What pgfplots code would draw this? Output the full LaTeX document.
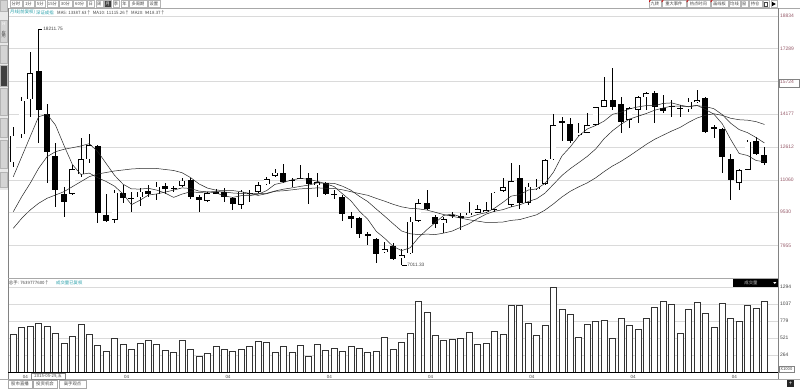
\documentclass[border=0pt]{standalone}
\usepackage{fontspec}
\setmainfont{Liberation Sans}
\newfontfamily\cjk{Noto Sans CJK SC}
\usepackage{pgfplots}
\usepackage{pgfplotstable}
\pgfplotsset{compat=1.18}
\definecolor{gridc}{RGB}{218,218,218}
\definecolor{framec}{RGB}{130,130,130}
\definecolor{lblc}{RGB}{150,90,105}
\definecolor{tealc}{RGB}{40,160,170}
\definecolor{sidebg}{RGB}{232,232,232}
\definecolor{btnc}{RGB}{212,212,212}
\definecolor{txtc}{RGB}{70,70,70}
\newcommand\fs[1]{\fontsize{#1}{#1}\selectfont}

\pgfplotstableread{
i O H L C V m5 m10 m20
0 11894 13554 11685 13155 586 11210 9550 8762
1 13222 15006 13046 14816 686 12159 10262 9237
2 14882 17140 14057 16116 707 13108 10897 9631
3 16239 18212 12795 14375 753 14057 11609 9948
4 14185 14659 10897 12396 707 14171 12159 10186
5 12192 12795 9787 10579 601 13658 12396 10342
6 10390 10736 9284 10024 450 12700 12510 10499
7 10390 11765 10342 11561 556 11789 12586 10736
8 11324 13032 11210 12036 727 11320 12667 10973
9 12036 13236 11874 12714 586 11381 12776 11210
10 12667 12714 9028 9474 419 11163 12406 11338
11 9393 10390 9076 9123 318 10983 11837 11410
12 9156 10579 9028 10451 525 10760 11272 11481
13 10451 10817 9948 10186 434 10390 10855 11528
14 10210 10499 9550 10186 359 9882 10632 11576
15 10233 10660 9820 10499 450 10091 10622 11599
16 10532 10817 10262 10375 495 10338 10660 11609
17 10375 10973 10105 10736 434 10394 10575 11599
18 10783 10926 10375 10613 343 10480 10432 11552
19 10651 10769 10499 10660 308 10575 10228 11505
20 10769 11134 10708 11021 495 10679 10385 11398
21 11054 11134 10138 10233 359 10651 10494 11169
22 10233 10342 9550 10105 252 10527 10461 10868
23 10072 10499 10024 10423 298 10489 10485 10671
24 10451 10613 10390 10460 404 10447 10508 10573
25 10499 10660 10024 10262 348 10295 10485 10557
26 10186 10262 9631 9901 318 10228 10437 10551
27 9868 10579 9664 10499 359 10309 10413 10498
28 10413 10579 10024 10423 404 10309 10394 10417
29 10499 10973 10423 10817 480 10380 10409 10322
30 10850 11210 10817 11087 460 10546 10418 10403
31 11258 11561 11210 11400 313 10845 10532 10517
32 11372 11813 10935 10959 404 10935 10617 10542
33 11030 11134 10736 11040 313 11059 10679 10585
34 11101 11765 11078 11163 419 11130 10750 10634
35 11134 11372 9915 10864 252 11087 10812 10652
36 10817 11372 10262 10945 434 10992 10916 10680
37 10897 10973 10342 10375 343 10878 10902 10662
38 10390 10579 10138 10366 374 10745 10897 10650
39 10262 10342 9123 9441 318 10399 10760 10589
40 9360 9550 8762 9204 404 10067 10570 10498
41 9237 9313 8288 8492 374 9578 10281 10411
42 8459 8601 7970 8445 313 9189 10029 10328
43 8241 8288 7102 7529 328 8620 9678 10183
44 7652 8127 7576 7766 540 8288 9337 10049
45 7923 8051 7259 7292 359 7904 8981 9901
46 7339 7766 7011 7496 460 7705 8634 9780
47 7576 9284 7543 9076 601 7833 8506 9709
48 9123 10138 9076 9948 1086 8317 8464 9685
49 9977 10579 9631 9678 909 8696 8487 9628
50 9284 9393 8762 8966 566 9033 8464 9522
51 9000 9313 8554 9204 495 9374 8535 9412
52 9393 9550 9237 9384 505 9436 8630 9334
53 9322 9474 8682 9299 525 9313 8810 9248
54 9393 10024 9370 9502 611 9275 8981 9165
55 9502 9868 9474 9664 424 9417 9218 9104
56 9550 10024 9502 9631 450 9503 9431 9039
57 9631 10499 9550 10451 631 9711 9569 9043
58 10532 11134 10499 10708 586 9991 9645 9059
59 9868 11874 9787 11006 1025 10290 9778 9138
60 11134 11765 9664 9977 1025 10356 9877 9176
61 9977 10897 9868 10736 753 10575 10029 9289
62 10627 11087 10579 10736 571 10632 10162 9403
63 10864 12036 10817 12003 722 10893 10432 9627
64 12036 14171 12003 13663 1293 11424 10850 9921
65 13820 14057 12918 13810 965 12192 11267 10248
66 13710 13981 12795 12918 879 12629 11595 10519
67 13189 13744 13141 13298 535 13141 11879 10730
68 13298 14218 13269 13663 737 13473 12173 10916
69 13663 14531 13616 14503 778 13639 12524 11157
70 14531 15954 14517 14849 798 13848 13013 11451
71 14849 16353 14375 14531 525 14171 13393 11718
72 14659 14977 13269 13791 828 14266 13696 11938
73 13900 14531 13506 14455 722 14427 13943 12195
74 14375 15039 13744 14977 662 14522 14076 12469
75 14977 15243 14375 15167 828 14583 14209 12744
76 15195 15276 13744 14503 990 14579 14365 12987
77 14455 15086 14218 14341 1076 14688 14470 13182
78 14564 14849 14057 14555 1040 14711 14560 13375
79 14455 14612 14057 14446 601 14607 14555 13547
80 14408 14930 14294 14768 965 14526 14545 13786
81 14768 15323 14692 14849 1071 14598 14579 13992
82 14930 14977 13298 13345 904 14398 14536 14122
83 13582 13663 13032 13473 686 14180 14436 14196
84 13473 13535 11372 12159 1056 13720 14156 14120
85 12036 12287 10105 11054 828 12975 13744 13982
86 10926 11561 10579 11528 783 12311 13445 13913
87 11528 12951 11528 12871 1015 12216 13298 13891
88 12904 13108 12240 12287 980 11979 13070 13822
89 12240 12634 11765 11846 1086 11917 12809 13690
}\candles

\newcommand\tbtn[4][white]{%
  \draw[framec!60, line width=0.4bp, fill=#1] (#2,380.4) rectangle (#3,387.6);}
\newcommand\tlbl[4][txtc]{\node[font=\cjk\fs{4.3}, text=#1, inner sep=0pt] at ({(#2+#3)/2},383.8) {#4};}

\begin{document}
\begin{tikzpicture}[x=1bp,y=1bp]
\useasboundingbox (0,0) rectangle (800,388);
\fill[white] (0,0) rectangle (800,388);

% ---------- main price panel ----------
\begin{axis}[
  name=main,
  at={(8.3bp,379bp)}, anchor=north west,
  width=770bp, height=263bp, scale only axis,
  xmin=-0.592, xmax=90.64, ymin=6689, ymax=19166,
  axis line style={draw=none},
  xtick=\empty,
  ytick={7955,9530,11060,12612,14177,15724,17289,18834},
  yticklabels={7955,9530,11060,12612,14177,15724,17289,18834},
  yticklabel pos=right,
  yticklabel style={font=\fs{5}, text=lblc, anchor=west, inner sep=1.6bp},
  major tick length=0pt, tick style={draw=none},
  ymajorgrids, grid style={gridc, line width=0.6bp},
]
% wicks
\addplot[draw=none, mark=none, forget plot,
  error bars/.cd, y dir=both, y explicit, error mark=none,
  error bar style={draw=black, line width=0.6bp, line cap=butt}]
  table[x=i, y expr={(\thisrow{H}+\thisrow{L})/2}, y error expr={(\thisrow{H}-\thisrow{L})/2}] {\candles};
% bodies (outline / black)
\addplot[draw=none, mark=none, forget plot,
  error bars/.cd, y dir=both, y explicit, error mark=none,
  error bar style={draw=black, line width=6bp, line cap=butt}]
  table[x=i, y expr={(\thisrow{O}+\thisrow{C})/2}, y error expr={max(abs(\thisrow{C}-\thisrow{O})/2,22)}] {\candles};
% hollow interiors of rising candles (falling ones are moved out of view)
\addplot[draw=none, mark=none, forget plot,
  error bars/.cd, y dir=both, y explicit, error mark=none,
  error bar style={draw=white, line width=4.6bp, line cap=butt}]
  table[x=i, y expr={ifthenelse(\thisrow{C}>\thisrow{O}+70,(\thisrow{O}+\thisrow{C})/2,1000)}, y error expr={ifthenelse(\thisrow{C}>\thisrow{O}+70,(\thisrow{C}-\thisrow{O})/2-33,10)}] {\candles};
% moving averages
\addplot[black!85, line width=0.5bp, mark=none] table[x=i, y=m5] {\candles};
\addplot[black!85, line width=0.5bp, mark=none] table[x=i, y=m10] {\candles};
\addplot[black!85, line width=0.5bp, mark=none] table[x=i, y=m20] {\candles};
% high / low annotations
\draw[black, line width=0.5bp] (axis cs:3,18212) -- ++(3.8bp,0bp) node[right, inner sep=0.6bp, font=\fs{4.8}, text=txtc] {18211.75};
\draw[black, line width=0.5bp] (axis cs:46,7011) -- ++(5bp,0bp) node[right, inner sep=0.6bp, font=\fs{4.8}, text=txtc] {7011.33};
\end{axis}

% ---------- volume panel ----------
\begin{axis}[
  name=vol,
  at={(8.3bp,110bp)}, anchor=north west,
  width=770bp, height=94.5bp, scale only axis,
  xmin=-0.592, xmax=90.64, ymin=0, ymax=1432,
  axis line style={draw=none},
  xtick={1,13,25,37,49,61,73,85},
  xticklabels={04,04,04,04,04,04,04,04},
  xticklabel style={anchor=north west, font=\fs{4.5}, text=txtc, inner sep=0pt, yshift=-2.2bp, xshift=1bp},
  ytick={264,521,779,1037,1294},
  yticklabels={264,521,779,1037,1294},
  yticklabel pos=right,
  yticklabel style={font=\fs{5}, text=txtc, anchor=west, inner sep=1.6bp},
  major tick length=0pt, tick style={draw=none},
  ymajorgrids, grid style={gridc, line width=0.6bp},
]
\addplot[ybar, bar width=6bp, bar shift=0pt, fill=white, draw=black!80, line width=0.6bp] table[x=i, y=V] {\candles};
\end{axis}

% ---------- frame lines ----------
\draw[framec!70, line width=0.5bp] (8,379.6) -- (800,379.6);
\draw[framec, line width=0.5bp] (8.3,379.6) -- (8.3,8.5);
\draw[framec, line width=0.6bp] (778.3,379.6) -- (778.3,8.5);
\draw[framec!70, line width=0.5bp] (8.3,110) -- (778.3,110);
\draw[black, line width=0.7bp] (8.3,15.5) -- (778.3,15.5);
\draw[framec!70, line width=0.5bp] (0,8.5) -- (800,8.5);

% ---------- top toolbar ----------
\tbtn{10}{21.7}{}\tlbl{10}{21.7}{分时}
\tbtn{22.7}{34}{}\tlbl{22.7}{34}{1分}
\tbtn{35}{45.5}{}\tlbl{35}{45.5}{5分}
\tbtn{46.7}{58.3}{}\tlbl{46.7}{58.3}{15分}
\tbtn{59.3}{71.7}{}\tlbl{59.3}{71.7}{30分}
\tbtn{73.3}{86}{}\tlbl{73.3}{86}{60分}
\tbtn{87.3}{94.3}{}\tlbl{87.3}{94.3}{日}
\tbtn{95.7}{102.7}{}\tlbl{95.7}{102.7}{周}
\tbtn[black!75]{104.3}{111}{}\tlbl[white]{104.3}{111}{月}
\tbtn{112.7}{119.3}{}\tlbl{112.7}{119.3}{季}
\tbtn{120.7}{128.3}{}\tlbl{120.7}{128.3}{年}
\tbtn{129.3}{146.7}{}\tlbl{129.3}{146.7}{多周期}
\tbtn{147.7}{160}{}\tlbl{147.7}{160}{设置}

\tbtn{649}{660.7}{}\tlbl{649}{660.7}{九转}
\tbtn{661.7}{686}{}\tlbl{661.7}{686}{重大事件}
\tbtn{686.7}{710}{}\tlbl{686.7}{710}{热点时间}
\tbtn{710.7}{728.3}{}\tlbl{710.7}{728.3}{画线板}
\tbtn{729}{740}{}\tlbl{729}{740}{均线}
\tbtn{740.7}{747.7}{}\tlbl{740.7}{747.7}{窗}
\tbtn{748.7}{761.7}{}\tlbl{748.7}{761.7}{持仓}
\tbtn{763}{769}{}
\draw[txtc, line width=0.4bp] (764.4,382) rectangle (767.6,385.8);
\tbtn{770.7}{776.7}{}
\fill[black] (772,381.8) -- (772,386.2) -- (775.8,384) -- cycle;
\foreach \xa in {649,661.7,686.7,710.7}{\fill[red!80!black] (\xa,387.6) -- (\xa+2,387.6) -- (\xa,385.6) -- cycle;}

% ---------- left sidebar ----------
\fill[sidebg] (0,198) rectangle (7.6,388);
\newcommand\sbtn[4][btnc]{\draw[framec!60, line width=0.4bp, fill=#1] (0.4,#2) rectangle (7.2,#3);}
\sbtn{377}{387.6}\node[font=\cjk\fs{4.2}, text=txtc, align=center, inner sep=0pt] at (3.8,382.3) {首\\[-0.6bp]页};
\sbtn{346}{368}
\fill[black!75] (1.2,361) rectangle (6.4,367);
\node[font=\fs{4}, text=white, inner sep=0pt] at (3.8,364) {H};
\node[font=\cjk\fs{4.2}, text=txtc, align=center, inner sep=0pt] at (3.8,353.5) {应\\[-0.6bp]用};
\sbtn{325}{343}\node[font=\cjk\fs{4.2}, text=txtc, align=center, inner sep=0pt] at (3.8,334) {分\\[-0.6bp]时\\[-0.6bp]图};
\sbtn[black!75]{302}{323}\node[font=\cjk\fs{4.2}, text=white, align=center, inner sep=0pt] at (3.8,312.5) {K\\[-0.6bp]线\\[-0.6bp]图};
\sbtn{273}{300}\node[font=\cjk\fs{4.2}, text=txtc, align=center, inner sep=0pt] at (3.8,286.5) {大\\[-0.6bp]盘\\[-0.6bp]资\\[-0.6bp]料};
\sbtn{251}{270}\node[font=\cjk\fs{4.2}, text=txtc, align=center, inner sep=0pt] at (3.8,260.5) {自\\[-0.6bp]选\\[-0.6bp]股};
\sbtn{220}{248}\node[font=\cjk\fs{4.2}, text=txtc, align=center, inner sep=0pt] at (3.8,234) {综\\[-0.6bp]合\\[-0.6bp]排\\[-0.6bp]名};
\sbtn{201}{216}\node[font=\cjk\fs{4.2}, text=txtc, align=center, inner sep=0pt] at (3.8,208.5) {更\\[-0.6bp]多};

% ---------- header texts ----------
\node[anchor=west, font=\cjk\fs{4.4}, text=tealc, inner sep=0pt] at (10,375.5) {月线(前复权)};
\node[anchor=west, font=\cjk\fs{4.4}, text=tealc, inner sep=0pt] at (36,375.5) {深证成指};
\node[anchor=west, font=\cjk\fs{4.4}, text=txtc, inner sep=0pt] at (57,375.5) {MA5: 13387.63↑};
\node[anchor=west, font=\cjk\fs{4.4}, text=txtc, inner sep=0pt] at (92.7,375.5) {MA10: 11115.26↑};
\node[anchor=west, font=\cjk\fs{4.4}, text=txtc, inner sep=0pt] at (131,375.5) {MA20: 9418.37↑};

% highlighted price label box
\draw[framec, line width=0.4bp] (779.3,300.8) rectangle (799.5,308.6);

% ---------- volume header ----------
\node[anchor=west, font=\cjk\fs{4.4}, text=txtc, inner sep=0pt] at (8.8,105) {总手: 7639777600↑};
\node[anchor=west, font=\cjk\fs{4.4}, text=tealc, inner sep=0pt] at (56,105) {成交量已复权};
\fill[black] (733,101) rectangle (778,109);
\node[font=\cjk\fs{4.4}, text=white!75!black, inner sep=0pt] at (751,105) {成交量};
\fill[white] (773.2,106) -- (776.4,106) -- (774.8,104) -- cycle;
\draw[framec, line width=0.4bp] (779,16.2) rectangle (794,22);
\node[font=\fs{4.2}, text=txtc, inner sep=0pt] at (786.5,19.1) {X1000};

% ---------- date box & bottom tabs ----------
\draw[framec, line width=0.4bp, fill=white] (31,9) rectangle (65.5,14.7);
\node[font=\cjk\fs{4.3}, text=txtc, inner sep=0pt] at (48.2,11.9) {2015-05-29,五};
\draw[framec!70, line width=0.4bp] (8.3,0.3) rectangle (31.7,8.3);
\draw[framec!70, line width=0.4bp] (33,0.3) rectangle (57,8.3);
\draw[framec!70, line width=0.4bp] (58.8,0.3) rectangle (86.5,8.3);
\node[font=\cjk\fs{4.4}, text=txtc, inner sep=0pt] at (20,4.3) {股市直播};
\node[font=\cjk\fs{4.4}, text=txtc, inner sep=0pt] at (45,4.3) {投资机会};
\node[font=\cjk\fs{4.4}, text=txtc, inner sep=0pt] at (72.6,4.3) {高手观点};
\fill[black!85] (787,1) rectangle (794,8);
\node[font=\fs{6}, text=white, inner sep=0pt] at (790.5,4.5) {+};
\end{tikzpicture}
\end{document}
